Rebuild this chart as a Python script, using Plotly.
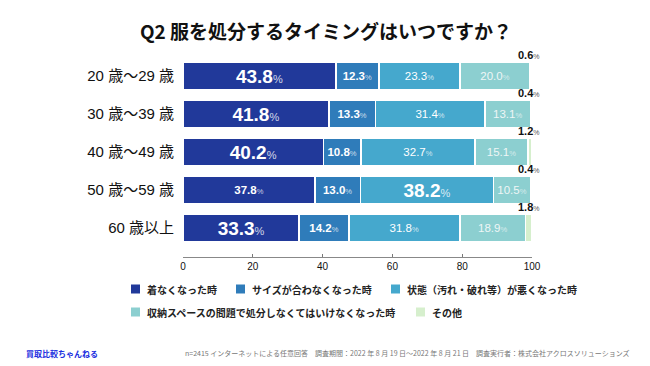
import plotly.graph_objects as go

categories = ["20 歳〜29 歳", "30 歳〜39 歳", "40 歳〜49 歳", "50 歳〜59 歳", "60 歳以上"]
series_names = [
    "着なくなった時",
    "サイズが合わなくなった時",
    "状態（汚れ・破れ等）が悪くなった時",
    "収納スペースの問題で処分しなくてはいけなくなった時",
    "その他",
]
s1 = [43.8, 41.8, 40.2, 37.8, 33.3]
s2 = [12.3, 13.3, 10.8, 13.0, 14.2]
s3 = [23.3, 31.4, 32.7, 38.2, 31.8]
s4 = [20.0, 13.1, 15.1, 10.5, 18.9]
s5 = [0.6, 0.4, 1.2, 0.4, 1.8]
tick_vals = [0, 20, 40, 60, 80, 100]

series = [s1, s2, s3, s4, s5]
colors = ["#21399a", "#2f7cba", "#45a8cd", "#8ccfd0", "#d6efcd"]
text_colors = ["#ffffff", "#ffffff", "#ffffff", "#eef6f6", "#000000"]
bold_small = [True, True, False, False, False]
legend_rows = [[0, 1, 2], [3, 4]]

NUM_FONT = "Liberation Sans, Noto Sans CJK JP"
JP_FONT = "Noto Sans CJK JP, Liberation Sans"

# page body adds an 8px margin; work in window pixels and convert
OFF = 8
W, H = 650 - OFF, 366 - OFF
# plot area in window pixels
PL, PR, PT, PB = 183, 532, 57, 257


def px_x(px):
    return (px - PL) / (PR - PL)


def px_y(py):
    return (PB - py) / (PB - PT)


row_max = [max(vals) for vals in zip(*series)]

fig = go.Figure()
for k, (name, vals) in enumerate(zip(series_names, series)):
    texts, sizes = [], []
    for i, v in enumerate(vals):
        if k == 4:
            texts.append("")
            sizes.append(10)
        elif v == row_max[i]:
            texts.append(f"<b>{v:.1f}</b><span style='font-size:11px;fill-opacity:0.8'>%</span>")
            sizes.append(19)
        else:
            num = f"<b>{v:.1f}</b>" if bold_small[k] else f"{v:.1f}"
            texts.append(num + "<span style='font-size:7.5px;fill-opacity:0.75'>%</span>")
            sizes.append(11.5)
    fig.add_trace(go.Bar(
        y=categories, x=vals, name=name, orientation="h",
        marker=dict(color=colors[k], line=dict(color="white", width=1.5)),
        text=texts, textposition="inside", insidetextanchor="middle",
        textangle=0, constraintext="none",
        textfont=dict(size=sizes, color=text_colors[k], family=NUM_FONT),
        width=0.72, showlegend=False, hoverinfo="skip",
    ))

# "その他" values above bar ends
totals = [sum(v) for v in zip(*series)]
for i, cat in enumerate(categories):
    fig.add_annotation(
        x=totals[i], y=cat, yshift=21, xshift=-3, showarrow=False, xanchor="center",
        text=f"<b>{s5[i]:.1f}</b><span style='font-size:7px;fill:#555'>%</span>",
        font=dict(size=11, color="#111", family=NUM_FONT),
    )

# legend (swatches + labels), laid out from label lengths
LEG_FS = 10
row_y = [289, 312]
for r, items in enumerate(legend_rows):
    x = 131
    y = row_y[r]
    for k in items:
        fig.add_shape(
            type="rect", xref="paper", yref="paper",
            x0=px_x(x), x1=px_x(x + 9), y0=px_y(y + 4.5), y1=px_y(y - 4.5),
            fillcolor=colors[k], line=dict(width=0),
        )
        fig.add_annotation(
            xref="paper", yref="paper", x=px_x(x + 14), y=px_y(y),
            xanchor="left", yanchor="middle", showarrow=False,
            text=f"<b>{series_names[k]}</b>",
            font=dict(size=LEG_FS, color="#222", family=JP_FONT),
        )
        x += 14 + len(series_names[k]) * LEG_FS + 21

# footer
fig.add_annotation(
    xref="paper", yref="paper", x=px_x(24), y=px_y(353), xanchor="left", yanchor="middle",
    showarrow=False, text="<b>買取比較ちゃんねる</b>",
    font=dict(size=8, color="#1b2fe0", family=JP_FONT),
)
fig.add_annotation(
    xref="paper", yref="paper", x=px_x(183), y=px_y(353), xanchor="left", yanchor="middle",
    showarrow=False,
    text="n=2415 インターネットによる任意回答　調査期間：2022 年 8 月 19 日〜2022 年 8 月 21 日　調査実行者：株式会社アクロスソリューションズ",
    font=dict(size=7, color="#777", family=JP_FONT),
)

fig.update_layout(
    width=W, height=H,
    margin=dict(l=PL - OFF, r=W - (PR - OFF), t=PT - OFF, b=H - (PB - OFF), pad=0, autoexpand=False),
    paper_bgcolor="white", plot_bgcolor="white",
    barmode="stack",
    showlegend=False,
    title=dict(
        text="<b>Q2 服を処分するタイミングはいつですか？</b>",
        x=(326 - OFF) / W, xref="container", xanchor="center",
        y=1 - (32 - OFF) / H, yref="container", yanchor="middle",
        font=dict(size=19, color="#111", family=JP_FONT),
    ),
    xaxis=dict(
        range=[0, 100], tickvals=tick_vals, ticks="inside", ticklen=3,
        tickcolor="#777", showline=True, linecolor="#888", linewidth=1,
        showgrid=False, zeroline=False, automargin=False,
        tickfont=dict(size=10, color="#111", family="Liberation Sans"),
        tickprefix="<b>", ticksuffix="</b>",
    ),
    yaxis=dict(
        autorange="reversed", showgrid=False, showline=False, ticks="",
        tickfont=dict(size=15, color="#111", family=NUM_FONT),
        ticklabelstandoff=8, automargin=False,
    ),
)

fig.write_html("out.html")
